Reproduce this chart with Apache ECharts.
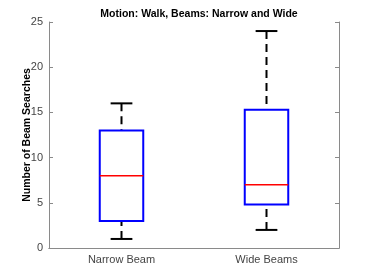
<!DOCTYPE html>
<html><head><meta charset="utf-8">
<script src="https://cdn.jsdelivr.net/npm/echarts@6/dist/echarts.min.js"></script>
<style>html,body{margin:0;padding:0;background:#fff}#c{width:374px;height:280px}</style>
</head><body><div id="c"></div>
<script>
const categories = ['Narrow Beam', 'Wide Beams'];
const whiskerLow = [1, 2];
const q1 = [3, 4.8];
const median = [8, 7];
const q3 = [13, 15.3];
const whiskerHigh = [16, 24];
const yTicks = [0, 5, 10, 15, 20, 25];

const rows = categories.map((c, i) => [i, whiskerLow[i], q1[i], median[i], q3[i], whiskerHigh[i]]);
const chart = echarts.init(document.getElementById('c'), null, {renderer: 'canvas'});
const axisGray = '#8a8a8a';
const font = 'Liberation Sans, Arial, sans-serif';
chart.setOption({
  animation: false,
  title: {text: 'Motion: Walk, Beams: Narrow and Wide', left: 194, top: 4, textAlign: 'center',
    textStyle: {fontFamily: font, fontSize: 10.5, fontWeight: 'bold', color: '#000'}},
  grid: {left: 49, right: 35, top: 22, bottom: 32},
  xAxis: [
    {type: 'category', data: categories, position: 'bottom', boundaryGap: true,
     axisLine: {lineStyle: {color: axisGray, width: 1}},
     axisTick: {inside: true, alignWithLabel: true, length: 4, lineStyle: {color: axisGray}},
     axisLabel: {fontFamily: font, fontSize: 11, color: '#444', margin: 6},
     splitLine: {show: false}},
    {type: 'category', data: categories, position: 'top', boundaryGap: true,
     axisLine: {lineStyle: {color: axisGray, width: 1}},
     axisTick: {inside: true, alignWithLabel: true, length: 4, lineStyle: {color: axisGray}},
     axisLabel: {show: false}, splitLine: {show: false}}
  ],
  yAxis: [
    {type: 'value', min: yTicks[0], max: yTicks[yTicks.length-1], interval: 5, position: 'left',
     name: 'Number of Beam Searches', nameLocation: 'middle', nameGap: 16, nameMoveOverlap: false,
     nameTextStyle: {fontFamily: font, fontSize: 10.5, fontWeight: 'bold', color: '#000'},
     axisLine: {show: true, lineStyle: {color: axisGray, width: 1}},
     axisTick: {show: true, inside: true, length: 4, lineStyle: {color: axisGray}},
     axisLabel: {fontFamily: font, fontSize: 11, color: '#444', margin: 6},
     splitLine: {show: false}},
    {type: 'value', min: yTicks[0], max: yTicks[yTicks.length-1], interval: 5, position: 'right',
     axisLine: {show: true, lineStyle: {color: axisGray, width: 1}},
     axisTick: {show: true, inside: true, length: 4, lineStyle: {color: axisGray}},
     axisLabel: {show: false}, splitLine: {show: false}}
  ],
  series: [{
    type: 'custom',
    xAxisIndex: 0, yAxisIndex: 0,
    data: rows,
    encode: {x: 0, y: [1, 2, 3, 4, 5]},
    renderItem: function (params, api) {
      const i = api.value(0);
      const band = api.size([1, 0])[0];
      const bw = band * 0.3, cw = band * 0.15;
      const pLo = api.coord([i, api.value(1)]);
      const pQ1 = api.coord([i, api.value(2)]);
      const pMed = api.coord([i, api.value(3)]);
      const pQ3 = api.coord([i, api.value(4)]);
      const pHi = api.coord([i, api.value(5)]);
      const x = pQ1[0];
      const dash = {stroke: '#000', lineWidth: 2, lineDash: [8, 5]};
      const solid = {stroke: '#000', lineWidth: 2};
      return {type: 'group', children: [
        {type: 'line', shape: {x1: x, y1: pHi[1], x2: x, y2: pQ3[1]}, style: dash},
        {type: 'line', shape: {x1: x, y1: pLo[1], x2: x, y2: pQ1[1]}, style: dash},
        {type: 'line', shape: {x1: x - cw/2, y1: pHi[1], x2: x + cw/2, y2: pHi[1]}, style: solid},
        {type: 'line', shape: {x1: x - cw/2, y1: pLo[1], x2: x + cw/2, y2: pLo[1]}, style: solid},
        {type: 'rect', shape: {x: x - bw/2, y: pQ3[1], width: bw, height: pQ1[1] - pQ3[1]},
         style: {fill: '#fff', stroke: '#0000ff', lineWidth: 2}},
        {type: 'line', shape: {x1: x - bw/2, y1: pMed[1], x2: x + bw/2, y2: pMed[1]},
         style: {stroke: '#ff0000', lineWidth: 1.5}}
      ]};
    }
  }]
});
</script></body></html>
